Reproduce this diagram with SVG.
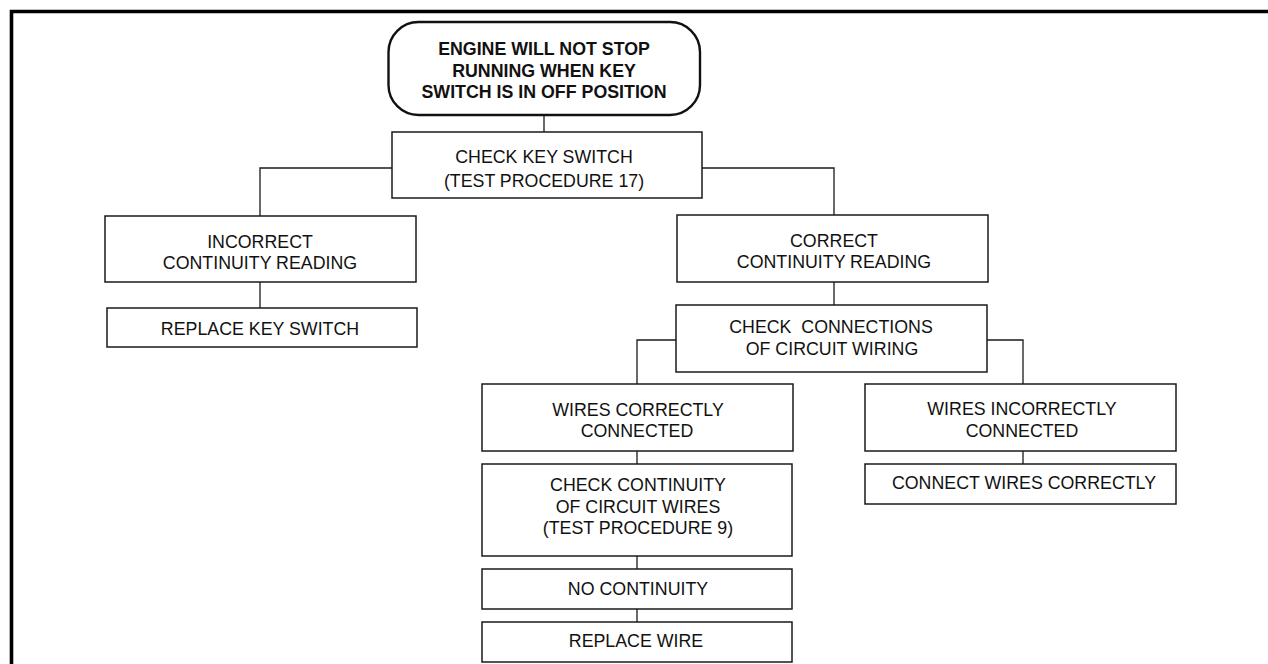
<svg xmlns="http://www.w3.org/2000/svg" width="1268" height="664" viewBox="0 0 1268 664">
<style>
.box{fill:#fff;stroke:#1a1a1a;stroke-width:1.5}
.start{fill:#fff;stroke:#111;stroke-width:2.4}
.t{font-family:"Liberation Sans",Arial,sans-serif;font-size:17.8px;fill:#111;text-anchor:middle}
.b{font-weight:bold}
.c{fill:none;stroke:#1a1a1a;stroke-width:1.3}
.frame{fill:none;stroke:#000;stroke-width:3.6}
</style>
<rect width="1268" height="664" fill="#fff"/>
<path class="frame" d="M11.5 664 V11.5 H1268"/>
<g id="connectors">
<path class="c" d="M544 115 V132"/>
<path class="c" d="M392 168 H260 V216"/>
<path class="c" d="M702 168 H834 V215"/>
<path class="c" d="M260 282 V308"/>
<path class="c" d="M834 282 V305"/>
<path class="c" d="M676 340 H637 V384"/>
<path class="c" d="M987 340 H1023 V384"/>
<path class="c" d="M637 451 V464"/>
<path class="c" d="M637 556 V569"/>
<path class="c" d="M637 609 V622"/>
<path class="c" d="M1023 451 V464"/>
</g>
<g id="start">
<rect class="start" x="388.5" y="22" width="311.5" height="93" rx="30" ry="30"/>
<text class="t b" x="544" y="55">ENGINE WILL NOT STOP</text>
<text class="t b" x="544" y="77">RUNNING WHEN KEY</text>
<text class="t b" x="544" y="98">SWITCH IS IN OFF POSITION</text>
</g>
<g id="check-key">
<rect class="box" x="392" y="132" width="310" height="66"/>
<text class="t" x="544" y="163">CHECK KEY SWITCH</text>
<text class="t" x="544" y="187">(TEST PROCEDURE 17)</text>
</g>
<g id="incorrect">
<rect class="box" x="105" y="216" width="311" height="66"/>
<text class="t" x="260" y="248">INCORRECT</text>
<text class="t" x="260" y="269">CONTINUITY READING</text>
</g>
<g id="replace-key">
<rect class="box" x="107" y="308" width="310" height="39"/>
<text class="t" x="260" y="335">REPLACE KEY SWITCH</text>
</g>
<g id="correct">
<rect class="box" x="677" y="215" width="311" height="67"/>
<text class="t" x="834" y="247">CORRECT</text>
<text class="t" x="834" y="268">CONTINUITY READING</text>
</g>
<g id="check-connections">
<rect class="box" x="676" y="305" width="311" height="67"/>
<text class="t" x="831" y="333" xml:space="preserve">CHECK  CONNECTIONS</text>
<text class="t" x="832" y="355">OF CIRCUIT WIRING</text>
</g>
<g id="wires-correct">
<rect class="box" x="482" y="384" width="311" height="67"/>
<text class="t" x="638" y="416">WIRES CORRECTLY</text>
<text class="t" x="637" y="437">CONNECTED</text>
</g>
<g id="check-continuity">
<rect class="box" x="482" y="464" width="310" height="92"/>
<text class="t" x="638" y="491">CHECK CONTINUITY</text>
<text class="t" x="638" y="513">OF CIRCUIT WIRES</text>
<text class="t" x="638" y="534">(TEST PROCEDURE 9)</text>
</g>
<g id="no-continuity">
<rect class="box" x="482" y="569" width="310" height="40"/>
<text class="t" x="638" y="595">NO CONTINUITY</text>
</g>
<g id="replace-wire">
<rect class="box" x="482" y="622" width="310" height="40"/>
<text class="t" x="636" y="647">REPLACE WIRE</text>
</g>
<g id="wires-incorrect">
<rect class="box" x="865" y="384" width="311" height="67"/>
<text class="t" x="1022" y="415">WIRES INCORRECTLY</text>
<text class="t" x="1022" y="437">CONNECTED</text>
</g>
<g id="connect-wires">
<rect class="box" x="865" y="464" width="311" height="40"/>
<text class="t" x="1024" y="489">CONNECT WIRES CORRECTLY</text>
</g>
</svg>
